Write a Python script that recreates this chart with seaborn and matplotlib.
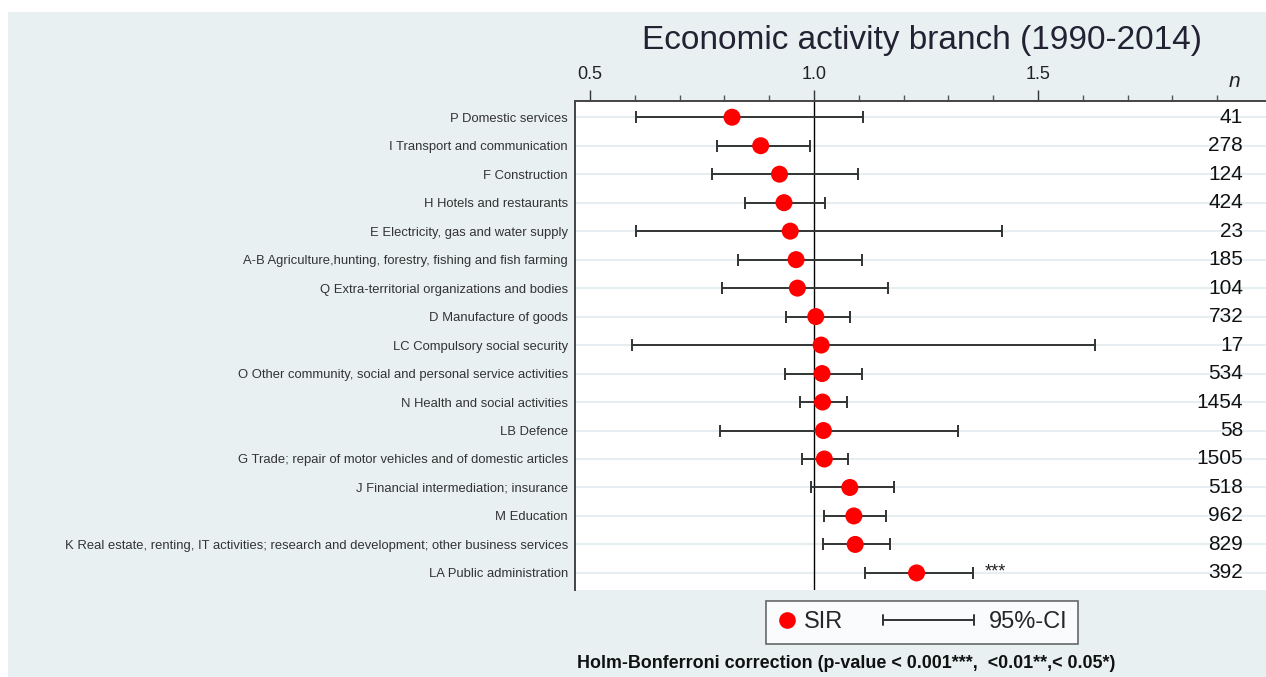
import matplotlib
matplotlib.use("Agg")
import matplotlib.pyplot as plt
import seaborn as sns
import pandas as pd
from matplotlib.lines import Line2D
from matplotlib.patches import Rectangle
from matplotlib.legend_handler import HandlerBase

categories = [
    "P Domestic services",
    "I Transport and communication",
    "F Construction",
    "H Hotels and restaurants",
    "E Electricity, gas and water supply",
    "A-B Agriculture,hunting, forestry, fishing and fish farming",
    "Q Extra-territorial organizations and bodies",
    "D Manufacture of goods",
    "LC Compulsory social security",
    "O Other community, social and personal service activities",
    "N Health and social activities",
    "LB Defence",
    "G Trade; repair of motor vehicles and of domestic articles",
    "J Financial intermediation; insurance",
    "M Education",
    "K Real estate, renting, IT activities; research and development; other business services",
    "LA Public administration",
]
sir = [0.817, 0.881, 0.923, 0.933, 0.947, 0.960, 0.963, 1.004, 1.016,
       1.018, 1.019, 1.021, 1.023, 1.080, 1.089, 1.092, 1.229]
ci_low = [0.602, 0.783, 0.773, 0.847, 0.602, 0.830, 0.794, 0.937, 0.593,
          0.936, 0.969, 0.791, 0.973, 0.994, 1.022, 1.019, 1.113]
ci_high = [1.110, 0.990, 1.099, 1.024, 1.420, 1.107, 1.165, 1.081, 1.627,
           1.108, 1.073, 1.322, 1.077, 1.178, 1.160, 1.169, 1.356]
n_obs = [41, 278, 124, 424, 23, 185, 104, 732, 17, 534, 1454, 58, 1505,
         518, 962, 829, 392]
signif = ["", "", "", "", "", "", "", "", "", "", "", "", "", "", "", "", "***"]

df = pd.DataFrame({"cat": categories, "sir": sir, "lo": ci_low, "hi": ci_high,
                   "n": n_obs, "sig": signif})
df["pos"] = range(len(df))

sns.set_theme(style="white")
plt.rcParams["font.family"] = ["Liberation Sans", "DejaVu Sans"]


class CIHandler(HandlerBase):
    """Draw a horizontal CI bar with end caps, extending left of the handle box."""
    def create_artists(self, legend, orig_handle, xdescent, ydescent,
                       width, height, fontsize, trans):
        y = height / 2 - ydescent
        x1 = -xdescent + width - 5
        x0 = x1 - 66
        c = "#333333"
        line = Line2D([x0, x1], [y, y], color=c, lw=1.4)
        cap0 = Line2D([x0, x0], [y - 3.5, y + 3.5], color=c, lw=1.4)
        cap1 = Line2D([x1, x1], [y - 3.5, y + 3.5], color=c, lw=1.4)
        for a in (line, cap0, cap1):
            a.set_transform(trans)
        return [line, cap0, cap1]


fig = plt.figure(figsize=(12.66, 6.77), dpi=100)
fig.patch.set_facecolor("white")
bg = "#E8F0F2"
fig.patches.append(Rectangle((8 / 1266, 0), 1 - 8 / 1266, 1 - 12 / 677,
                             transform=fig.transFigure, facecolor=bg,
                             edgecolor="none", zorder=-10))

ax = fig.add_axes([575 / 1266, 1 - 590 / 677, 1 - 575 / 1266, (590 - 101) / 677])
ax.set_facecolor("white")

for p in df["pos"]:
    ax.axhline(p, color="#E6EEF1", lw=1.5, zorder=0)
ax.axvline(1.0, color="black", lw=1.0, zorder=1)

ax.errorbar(df["sir"], df["pos"],
            xerr=[df["sir"] - df["lo"], df["hi"] - df["sir"]],
            fmt="none", ecolor="#333333", elinewidth=1.4, capsize=4.5,
            capthick=1.4, zorder=2)
sns.scatterplot(data=df, x="sir", y="pos", ax=ax, color="#FF0000", s=150,
                edgecolor="none", zorder=3, legend=False)

ax.set_xlim(0.4665, 2.009)
ax.set_ylim(len(df) - 1 + 0.6, -0.57)
ax.set_yticks(df["pos"])
ax.set_yticklabels(df["cat"], fontsize=9.4, color="#333333")
ax.set_xlabel("")
ax.set_ylabel("")

ax.xaxis.tick_top()
ax.set_xticks([0.5, 1.0, 1.5])
ax.set_xticklabels(["0.5", "1.0", "1.5"], fontsize=13, color="#222222")
ax.set_xticks([0.6, 0.7, 0.8, 0.9, 1.1, 1.2, 1.3, 1.4, 1.6, 1.7, 1.8, 1.9], minor=True)
ax.tick_params(axis="x", which="major", top=True, bottom=False, length=8,
               width=1, color="#333333", direction="out", pad=5)
ax.tick_params(axis="x", which="minor", top=True, bottom=False, length=4,
               width=1, color="#555555", direction="out")
ax.tick_params(axis="y", which="major", left=False, length=0, pad=5)

for side in ["right", "bottom"]:
    ax.spines[side].set_visible(False)
for side in ["left", "top"]:
    ax.spines[side].set_visible(True)
    ax.spines[side].set_color("#444444")
    ax.spines[side].set_linewidth(1.4)

for p, nv, s, hi in zip(df["pos"], df["n"], df["sig"], df["hi"]):
    ax.text(0.967, p, str(nv), transform=ax.get_yaxis_transform(),
            ha="right", va="center", fontsize=15, color="#111111")
    if s:
        ax.text(hi + 0.025, p - 0.05, s, ha="left", va="center", fontsize=13,
                color="#222222")
ax.text(0.955, 1.02, "n", transform=ax.transAxes, ha="center", va="bottom",
        fontsize=15, style="italic", color="#222222")

fig.text(922 / 1266, 1 - 40 / 677, "Economic activity branch (1990-2014)",
         ha="center", va="center", fontsize=24, color="#222233")

sir_handle = Line2D([0], [0], marker="o", color="none", markerfacecolor="#FF0000",
                    markeredgecolor="none", markersize=12, label="SIR")
ci_handle = Line2D([0], [0], color="#333333", lw=1.4, label="95%-CI")
leg = fig.legend(handles=[sir_handle, ci_handle], loc="center", ncol=2,
                 bbox_to_anchor=(922 / 1266, 1 - 622.5 / 677), fontsize=17,
                 frameon=True, fancybox=False, edgecolor="#444444",
                 handlelength=0.85, columnspacing=5.0, handletextpad=0.3,
                 borderpad=0.45, handler_map={ci_handle: CIHandler()})
leg.get_frame().set_linewidth(1.2)

fig.text(577 / 1266, 1 - 664 / 677,
         "Holm-Bonferroni correction (p-value < 0.001***,  <0.01**,< 0.05*)",
         ha="left", va="center", fontsize=12.9, fontweight="bold",
         color="#111111")

fig.savefig("out.png", dpi=100, facecolor=fig.get_facecolor())
